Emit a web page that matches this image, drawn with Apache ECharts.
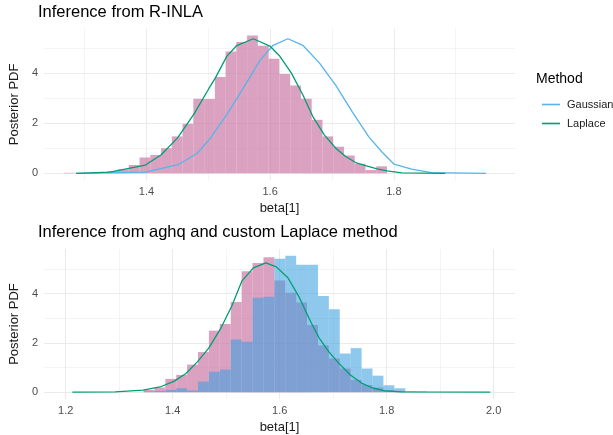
<!DOCTYPE html>
<html>
<head>
<meta charset="utf-8">
<script src="https://cdn.jsdelivr.net/npm/echarts@6/dist/echarts.min.js"></script>
<style>html,body{margin:0;padding:0;background:#fff;}#c{width:613px;height:435px;}</style>
</head>
<body>
<div id="c"></div>
<script>
// ---------- data ----------
// Top panel (R-INLA): histogram of samples (pink), bin left edges + heights
const topBinLeft = [1.2672,1.2846,1.3020,1.3194,1.3367,1.3541,1.3715,1.3889,1.4063,1.4237,1.4411,1.4585,1.4759,1.4933,1.5107,1.5280,1.5454,1.5628,1.5802,1.5976,1.6150,1.6324,1.6498,1.6672,1.6846,1.7020,1.7193,1.7367,1.7541,1.7715];
const topBinWidth = 0.01739;
const topHist = [0.02,0.01,0.01,0.03,0.09,0.16,0.33,0.63,0.73,1.00,1.47,1.97,2.97,2.96,3.84,4.85,5.23,5.49,5.08,4.56,3.96,3.50,2.97,2.13,1.47,1.06,0.71,0.38,0.13,0.28];
// Top panel curves
const topGaussX = [1.2864,1.3984,1.4528,1.4821,1.5035,1.5301,1.5568,1.5835,1.6048,1.6288,1.6528,1.6795,1.7061,1.7328,1.7595,1.7808,1.8000,1.8288,1.8608,1.9488];
const topGaussY = [0.00,0.05,0.36,0.80,1.40,2.35,3.40,4.50,5.10,5.36,5.10,4.40,3.50,2.45,1.45,0.85,0.37,0.17,0.03,0.00];
const topLapX = [1.2864,1.3408,1.3984,1.4235,1.4501,1.4768,1.5008,1.5115,1.5301,1.5461,1.5728,1.5995,1.6155,1.6341,1.6528,1.6688,1.6875,1.7061,1.7221,1.7381,1.7541,1.7728,1.7888,1.8128,1.8832];
const topLapY = [0.00,0.05,0.33,0.73,1.40,2.36,3.37,3.80,4.67,5.09,5.36,5.07,4.67,4.00,3.13,2.27,1.53,1.00,0.67,0.43,0.31,0.18,0.10,0.02,0.00];

// Bottom panel (aghq + custom Laplace): two histograms on shared bins
const botBinLeft = [1.3454,1.3658,1.3862,1.4066,1.4269,1.4473,1.4677,1.4881,1.5085,1.5289,1.5493,1.5697,1.5901,1.6105,1.6308,1.6512,1.6716,1.6920,1.7124,1.7328,1.7532,1.7736,1.7940,1.8144,1.8347,1.8551];
const botBinWidth = 0.02038;
const botHistPink = [0.09,0.19,0.54,0.70,1.12,1.63,2.50,2.77,3.66,4.91,5.25,5.48,4.54,4.04,3.64,2.73,1.90,1.37,0.96,0.50,0.29,0.19,0.09,0.05,0,0];
const botHistBlue = [0.03,0.05,0.09,0.16,0.07,0.43,0.83,0.92,2.14,2.05,3.84,3.88,5.42,5.54,5.18,5.18,3.91,3.37,1.57,1.79,0.96,0.67,0.28,0.16,0.04,0.03];
const botLapX = [1.2124,1.2923,1.3445,1.3785,1.4031,1.4247,1.4461,1.4677,1.4893,1.5107,1.5292,1.5507,1.5742,1.5938,1.6154,1.6370,1.6584,1.6739,1.6924,1.7108,1.7322,1.7538,1.7754,1.7968,1.8277,1.9938];
const botLapY = [0.00,0.01,0.08,0.23,0.45,0.76,1.23,1.80,2.57,3.51,4.51,5.05,5.25,5.09,4.65,3.84,2.84,2.20,1.63,1.17,0.70,0.36,0.16,0.05,0.01,0.00];

// axis ticks
const topXTicks = [1.4,1.6,1.8];
const topXMinor = [1.3,1.5,1.7,1.9];
const botXTicks = [1.2,1.4,1.6,1.8,2.0];
const botXMinor = [1.3,1.5,1.7,1.9];
const yTicks = [0,2,4];
const yMinor = [1,3,5];

const titles = ['Inference from R-INLA','Inference from aghq and custom Laplace method'];

// ---------- styling ----------
const FONT = '"Liberation Sans", Arial, Helvetica, sans-serif';
const COL_GAUSS = '#56B4E9';
const COL_LAP = '#009E73';
const FILL_PINK = 'rgba(204,121,167,0.7)';
const FILL_BLUE = 'rgba(60,160,222,0.58)';
const GRID_COL = '#ebebeb';

function pairs(xs, ys){ return xs.map((x,i)=>[x, ys[i]]); }
function histData(lefts, w, hs){ return lefts.map((l,i)=>[l, l+w, hs[i]]); }

function histSeries(data, xi, fill, z){
  return {
    type:'custom', xAxisIndex:xi, yAxisIndex:xi, z:z, silent:true,
    encode:{x:[0,1], y:2},
    data:data,
    renderItem:function(params, api){
      const x0 = api.value(0), x1 = api.value(1), h = api.value(2);
      const p0 = api.coord([x0, h]);
      const p1 = api.coord([x1, 0]);
      return {type:'rect', shape:{x:p0[0], y:p0[1], width:p1[0]-p0[0], height:p1[1]-p0[1]},
              style:{fill:fill}};
    }
  };
}

function gridSeries(xi, xMaj, xMin){
  const data = [];
  xMin.forEach(v=>data.push({xAxis:v, lineStyle:{width:0.55}}));
  yMinor.forEach(v=>data.push({yAxis:v, lineStyle:{width:0.55}}));
  xMaj.forEach(v=>data.push({xAxis:v, lineStyle:{width:1.1}}));
  yTicks.forEach(v=>data.push({yAxis:v, lineStyle:{width:1.1}}));
  return {
    type:'line', xAxisIndex:xi, yAxisIndex:xi, data:[], z:0, silent:true,
    markLine:{silent:true, z:0, zlevel:0, symbol:['none','none'], label:{show:false}, animation:false,
      lineStyle:{color:GRID_COL, type:'solid'}, data:data}
  };
}

function lineSeries(name, xs, ys, xi, color){
  return {type:'line', name:name, xAxisIndex:xi, yAxisIndex:xi, data:pairs(xs,ys),
    symbol:'none', showSymbol:false, z:4, silent:true, clip:true,
    lineStyle:{color:color, width:1.3}, itemStyle:{color:color}};
}

function xAxis(gi, min, max, ticks){
  return {type:'value', gridIndex:gi, min:min, max:max,
    splitLine:{show:false}, axisLine:{show:false}, axisTick:{show:false},
    axisLabel:{customValues:ticks, formatter:v=>v.toFixed(1), color:'#4d4d4d', fontSize:11, fontFamily:FONT, margin:6},
    name:'beta[1]', nameLocation:'middle', nameGap:22,
    nameTextStyle:{color:'#1a1a1a', fontSize:13, fontFamily:FONT}};
}
function yAxis(gi, min, max){
  return {type:'value', gridIndex:gi, min:min, max:max,
    splitLine:{show:false}, axisLine:{show:false}, axisTick:{show:false},
    axisLabel:{customValues:yTicks, formatter:v=>String(v), color:'#4d4d4d', fontSize:11, fontFamily:FONT, margin:6},
    name:'Posterior PDF', nameLocation:'middle', nameGap:17,
    nameTextStyle:{color:'#1a1a1a', fontSize:13, fontFamily:FONT}};
}

const chart = echarts.init(document.getElementById('c'), null, {renderer:'canvas'});
chart.setOption({
  animation:false,
  backgroundColor:'#ffffff',
  textStyle:{fontFamily:FONT},
  title:[
    {text:titles[0], left:38, top:4, padding:0, textStyle:{fontSize:16.5, fontWeight:'normal', color:'#000', fontFamily:FONT}},
    {text:titles[1], left:38, top:224, padding:0, textStyle:{fontSize:16.5, fontWeight:'normal', color:'#000', fontFamily:FONT}}
  ],
  legend:{
    data:['Gaussian','Laplace'], orient:'vertical', left:537, top:94,
    icon:'rect', itemWidth:18, itemHeight:1.6, itemGap:8,
    textStyle:{fontSize:11, color:'#1a1a1a', fontFamily:FONT, padding:[0,0,0,2]},
    selectedMode:false
  },
  graphic:[{type:'text', left:536, top:72, style:{text:'Method', fontSize:14, fill:'#000', fontFamily:FONT}}],
  grid:[
    {left:38, top:28.6, width:477, height:151.6},
    {left:38, top:249, width:477, height:152}
  ],
  xAxis:[ xAxis(0, 1.2345, 1.9958, topXTicks), xAxis(1, 1.1594, 2.0400, botXTicks) ],
  yAxis:[ yAxis(0, -0.2745, 5.7645), yAxis(1, -0.277, 5.817) ],
  series:[
    gridSeries(0, topXTicks, topXMinor),
    gridSeries(1, botXTicks, botXMinor),
    histSeries(histData(topBinLeft, topBinWidth, topHist), 0, FILL_PINK, 2),
    lineSeries('Gaussian', topGaussX, topGaussY, 0, COL_GAUSS),
    lineSeries('Laplace', topLapX, topLapY, 0, COL_LAP),
    histSeries(histData(botBinLeft, botBinWidth, botHistPink), 1, FILL_PINK, 2),
    histSeries(histData(botBinLeft, botBinWidth, botHistBlue), 1, FILL_BLUE, 3),
    lineSeries('Laplace', botLapX, botLapY, 1, COL_LAP)
  ]
});
</script>
</body>
</html>
